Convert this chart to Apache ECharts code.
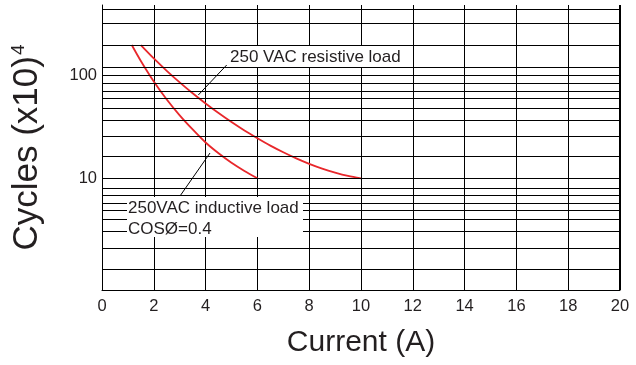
<!DOCTYPE html>
<html>
<head>
<meta charset="utf-8">
<script src="https://cdn.jsdelivr.net/npm/echarts@6/dist/echarts.min.js"></script>
<style>html,body{margin:0;padding:0;background:#fff}#c{width:636px;height:365px}</style>
</head>
<body>
<div id="c"></div>
<script>
// Data
var resistiveLoad = [[1.5,195],[2,144.8],[2.5,109.8],[3,84.8],[3.5,66.5],[4,53],[4.5,42.8],[5,35],[5.5,29],[6,24.4],[6.5,20.7],[7,17.85],[7.5,15.58],[8,13.8],[8.5,12.41],[9,11.36],[9.5,10.55],[10,10]];
var inductiveLoad = [[1.15,195],[1.5,136.6],[2,86.5],[2.5,57.9],[3,40.7],[3.5,29.7],[4,22.2],[4.5,17.46],[5,14.13],[5.5,11.77],[6,10]];
var xTicks = [0,2,4,6,8,10,12,14,16,18,20];
var yLabelValues = [10,100];
var yGridValues = [432,316,195,118,100,84,70,59,47.6,36.7,25.8,16.3,10,8.0,6.9,5.7,4.9,4.0,3.07,2.12,1.33];

var FONT = "'Liberation Sans', Arial, sans-serif";
var TXT = '#231f20';
var chart = echarts.init(document.getElementById('c'), null, {renderer:'canvas'});
chart.setOption({
  animation:false,
  backgroundColor:'#fff',
  grid:{left:102, right:16, top:5, bottom:75, containLabel:false},
  xAxis:{
    type:'value', min:xTicks[0], max:xTicks[xTicks.length-1], interval:2,
    axisLine:{show:true, lineStyle:{color:'#000', width:1}},
    axisTick:{show:false},
    axisLabel:{color:TXT, fontSize:16.5, fontFamily:FONT, margin:8},
    splitLine:{show:true, lineStyle:{color:'#000', width:1}},
    name:'Current (A)', nameLocation:'middle', nameGap:38,
    nameTextStyle:{color:TXT, fontSize:30, fontFamily:FONT}
  },
  yAxis:{
    type:'log', logBase:10, min:0.829, max:476,
    axisLine:{show:true, lineStyle:{color:'#000', width:1}},
    axisTick:{show:false},
    axisLabel:{color:TXT, fontSize:16.5, fontFamily:FONT, margin:5,
      formatter:function(v){
        for (var i=0;i<yLabelValues.length;i++){ if (Math.abs(v-yLabelValues[i])<1e-6) return String(yLabelValues[i]); }
        return '';
      }},
    splitLine:{show:false},
    name:'{a|Cycles (x10)}{s|4}', nameLocation:'middle', nameGap:57, nameRotate:90,
    nameTextStyle:{color:TXT, fontSize:35, fontFamily:FONT,
      rich:{a:{fontSize:35, fontFamily:FONT, color:TXT}, s:{fontSize:19, fontFamily:FONT, color:TXT, verticalAlign:'top', padding:[0,0,17,1]}}}
  },
  series:[
    {type:'line', data:[], z:1, silent:true,
     markLine:{silent:true, symbol:['none','none'], label:{show:false},
       lineStyle:{color:'#000', width:1, type:'solid'},
       emphasis:{disabled:true},
       data: yGridValues.map(function(v){return {yAxis:v};}).concat([{xAxis:xTicks[xTicks.length-1], lineStyle:{width:2}}])}},
    {type:'line', name:'resistive', data:resistiveLoad, smooth:0.3, showSymbol:false, z:3,
     lineStyle:{color:'#e8272b', width:1.8}},
    {type:'line', name:'inductive', data:inductiveLoad, smooth:0.3, showSymbol:false, z:3,
     lineStyle:{color:'#e8272b', width:1.8}}
  ],
  graphic:[
    {type:'rect', z:50, shape:{x:227,y:46,width:178,height:21}, style:{fill:'#fff'}},
    {type:'text', z:51, style:{x:230, y:57, text:'250 VAC resistive load', fill:TXT, font:'17px '+FONT, verticalAlign:'middle'}},
    {type:'line', z:51, shape:{x1:198.3,y1:95,x2:226.7,y2:65}, style:{stroke:'#000', lineWidth:1}},
    {type:'rect', z:50, shape:{x:127,y:197,width:176,height:40}, style:{fill:'#fff'}},
    {type:'text', z:51, style:{x:128, y:208, text:'250VAC inductive load', fill:TXT, font:'17px '+FONT, verticalAlign:'middle'}},
    {type:'text', z:51, style:{x:128, y:229, text:'COSØ=0.4', fill:TXT, font:'17px '+FONT, verticalAlign:'middle'}},
    {type:'line', z:51, shape:{x1:180,y1:196,x2:210,y2:153}, style:{stroke:'#000', lineWidth:1}}
  ]
});
</script>
</body>
</html>
